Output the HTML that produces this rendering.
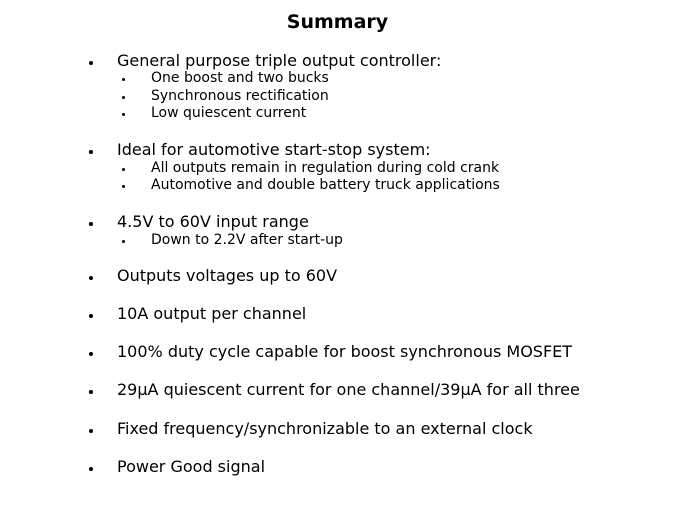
<!DOCTYPE html>
<html><head><style>
body{margin:0;width:675px;height:506px;background:#fff;position:relative;font-family:"DejaVu Sans","Liberation Sans",sans-serif;color:#000;overflow:hidden}
.t{position:absolute;left:0;width:675px;text-align:center;top:10px;font-size:19px;font-weight:bold;line-height:24px}
.m,.s{position:absolute;white-space:nowrap;line-height:20px}
.m{left:117px;font-size:16px}
.s{left:151px;font-size:14px}
.m:before{content:"";position:absolute;left:-28px;top:10px;width:4px;height:4px;border-radius:2px;background:#000}
.s:before{content:"";position:absolute;left:-29px;top:10px;width:3px;height:3px;border-radius:2px;background:#000}
</style></head><body>
<div class="t">Summary</div>
<div class="m" style="top:51px">General purpose triple output controller:</div>
<div class="s" style="top:68px">One boost and two bucks</div>
<div class="s" style="top:86px">Synchronous rectification</div>
<div class="s" style="top:103px">Low quiescent current</div>
<div class="m" style="top:140px">Ideal for automotive start-stop system:</div>
<div class="s" style="top:158px">All outputs remain in regulation during cold crank</div>
<div class="s" style="top:175px">Automotive and double battery truck applications</div>
<div class="m" style="top:212px">4.5V to 60V input range</div>
<div class="s" style="top:230px">Down to 2.2V after start-up</div>
<div class="m" style="top:266px">Outputs voltages up to 60V</div>
<div class="m" style="top:304px">10A output per channel</div>
<div class="m" style="top:342px">100% duty cycle capable for boost synchronous MOSFET</div>
<div class="m" style="top:380px">29µA quiescent current for one channel/39µA for all three</div>
<div class="m" style="top:419px">Fixed frequency/synchronizable to an external clock</div>
<div class="m" style="top:457px">Power Good signal</div>
</body></html>
